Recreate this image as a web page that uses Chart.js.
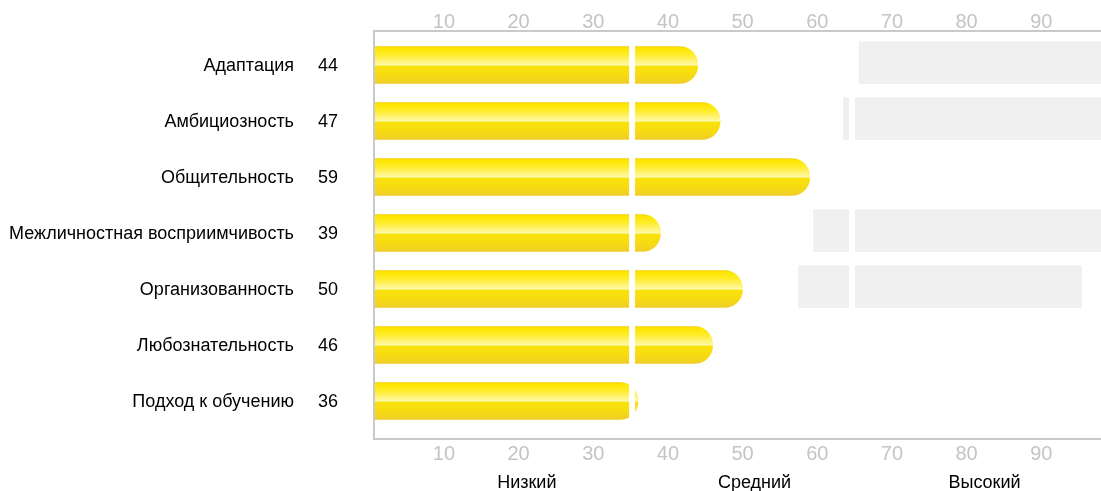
<!DOCTYPE html>
<html><head><meta charset="utf-8">
<script src="https://cdn.jsdelivr.net/npm/chart.js@4.4.0/dist/chart.umd.min.js"></script>
<style>html,body{margin:0;padding:0;background:#fff;overflow:hidden}canvas{display:block}</style>
</head><body>
<canvas id="c" width="1101" height="491" style="width:1101px;height:491px"></canvas>
<script>
const categories = ['Адаптация','Амбициозность','Общительность','Межличностная восприимчивость','Организованность','Любознательность','Подход к обучению'];
const scores = [44, 47, 59, 39, 50, 46, 36];
const rangeStart = [65.6, 63.5, null, 59.5, 57.5, null, null];
const rangeEnd = [100, 100, null, 100, 95.4, null, null];
const tickValues = [10, 20, 30, 40, 50, 60, 70, 80, 90];
const zoneNames = ['Низкий', 'Средний', 'Высокий'];
const zoneLabelAt = [21.1, 51.6, 82.4];
const zoneBounds = [35.2, 64.65];
const axisMin = 0.63, axisMax = 98;

const FONT = 'Arial, "Liberation Sans", sans-serif';
const grayRanges = rangeStart.map((s, i) => s === null ? null : [s, rangeEnd[i]]);

function yellowFill(ctx) {
  const chart = ctx.chart;
  if (!chart.chartArea || ctx.dataIndex === undefined) return '#f8e000';
  const yc = chart.scales.y.getPixelForValue(ctx.dataIndex);
  const h = 37;
  const g = chart.ctx.createLinearGradient(0, yc - h / 2, 0, yc + h / 2);
  g.addColorStop(0, '#efd400');
  g.addColorStop(0.05, '#fde600');
  g.addColorStop(0.22, '#ffec28');
  g.addColorStop(0.5, '#fff8a6');
  g.addColorStop(0.54, '#f9e20a');
  g.addColorStop(0.78, '#f6db12');
  g.addColorStop(1, '#f0cd26');
  return g;
}

const framePlugin = {
  id: 'frameAndLabels',
  beforeDatasetDraw(chart, args) {
    if (args.index === 0) { chart.ctx.save(); chart.ctx.translate(0, -2.4); }
  },
  afterDatasetDraw(chart, args) {
    if (args.index === 0) chart.ctx.restore();
  },
  afterDatasetsDraw(chart) {
    const ctx = chart.ctx, a = chart.chartArea, x = chart.scales.x;
    ctx.save();
    ctx.fillStyle = '#ffffff';
    zoneBounds.forEach(b => {
      const px = x.getPixelForValue(b);
      ctx.fillRect(px - 3, a.top, 6, a.bottom - a.top);
    });
    ctx.restore();
  },
  afterDraw(chart) {
    const ctx = chart.ctx, a = chart.chartArea, y = chart.scales.y;
    ctx.save();
    ctx.strokeStyle = '#c9c9c9';
    ctx.lineWidth = 2;
    ctx.beginPath();
    ctx.moveTo(a.left - 1, a.top - 6); ctx.lineTo(a.right, a.top - 6);
    ctx.moveTo(a.left, a.top - 7); ctx.lineTo(a.left, a.bottom + 10);
    ctx.moveTo(a.left - 1, a.bottom + 10); ctx.lineTo(a.right, a.bottom + 10);
    ctx.stroke();
    ctx.font = '18px ' + FONT;
    ctx.fillStyle = '#000';
    ctx.textBaseline = 'middle';
    categories.forEach((c, i) => {
      const py = y.getPixelForValue(i) + 1;
      ctx.textAlign = 'right';
      ctx.fillText(c, a.left - 80, py);
      ctx.textAlign = 'left';
      ctx.fillText(String(scores[i]), a.left - 56, py);
    });
    ctx.restore();
  }
};

const tickFont = { family: FONT, size: 20 };

new Chart(document.getElementById('c'), {
  type: 'bar',
  data: {
    labels: categories,
    datasets: [
      {
        data: grayRanges,
        backgroundColor: '#f0f0f0',
        barThickness: 42,
        grouped: false,
        borderWidth: 0,
        xAxisID: 'x'
      },
      {
        data: scores,
        backgroundColor: yellowFill,
        barThickness: 37,
        grouped: false,
        borderWidth: 0,
        borderSkipped: 'start',
        borderRadius: { topLeft: 0, bottomLeft: 0, topRight: 18.5, bottomRight: 18.5 },
        xAxisID: 'x'
      }
    ]
  },
  options: {
    indexAxis: 'y',
    responsive: false,
    animation: false,
    devicePixelRatio: 1,
    layout: { padding: { left: 374, right: 0, top: 0, bottom: 0 } },
    plugins: { legend: { display: false }, tooltip: { enabled: false } },
    scales: {
      y: { display: false },
      x: {
        type: 'linear', position: 'bottom', min: axisMin, max: axisMax, weight: 0,
        grid: { display: false }, border: { display: false },
        afterBuildTicks: s => { s.ticks = tickValues.map(v => ({ value: v })); },
        afterFit: s => { s.height = 35; },
        ticks: { color: '#c4c4c4', font: tickFont, padding: 5, autoSkip: false, maxRotation: 0, callback: v => String(v) }
      },
      xTop: {
        type: 'linear', position: 'top', min: axisMin, max: axisMax,
        grid: { display: false }, border: { display: false },
        afterBuildTicks: s => { s.ticks = tickValues.map(v => ({ value: v })); },
        afterFit: s => { s.height = 37; },
        ticks: { color: '#c4c4c4', font: tickFont, padding: -5, autoSkip: false, maxRotation: 0, callback: v => String(v) }
      },
      xZone: {
        type: 'linear', position: 'bottom', min: axisMin, max: axisMax, weight: 1,
        grid: { display: false }, border: { display: false },
        afterBuildTicks: s => { s.ticks = zoneLabelAt.map(v => ({ value: v })); },
        afterFit: s => { s.height = 27; },
        ticks: { color: '#000', font: { family: FONT, size: 18 }, padding: 0.5, autoSkip: false, maxRotation: 0,
          callback: (v, i) => zoneNames[i] }
      }
    }
  },
  plugins: [framePlugin]
});
</script>
</body></html>
